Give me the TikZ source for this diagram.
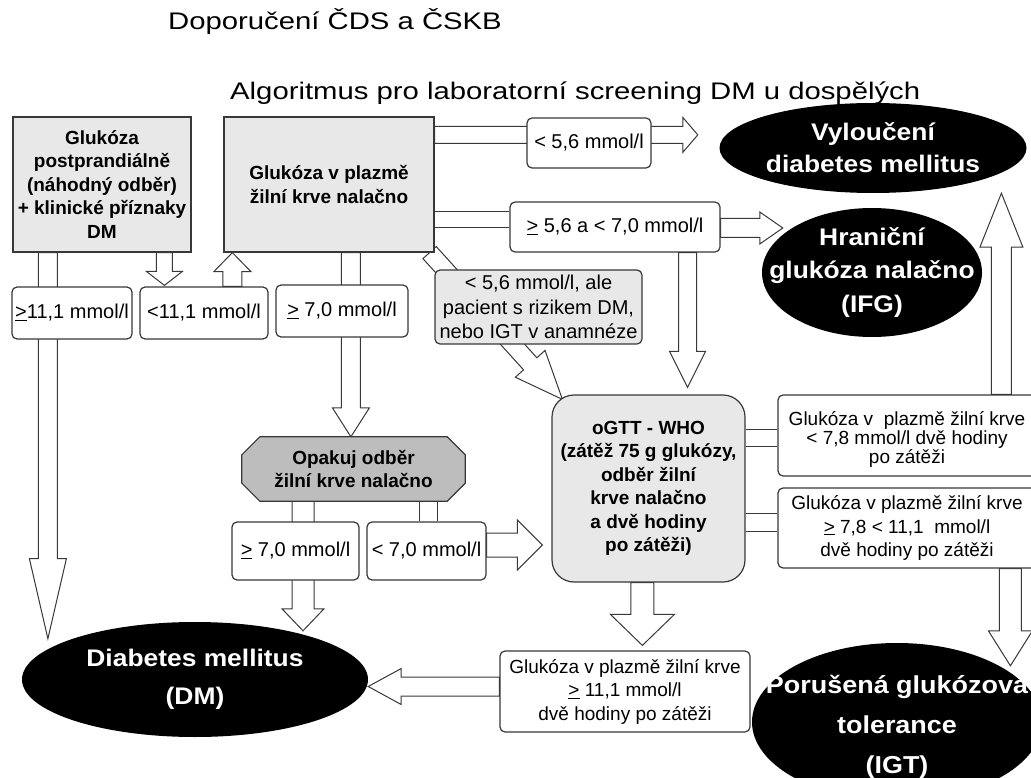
\documentclass[tikz,border=0pt]{standalone}
\usepackage{fontspec}
\setmainfont{Liberation Sans}
\newfontfamily\headfont{Liberation Sans}[FakeStretch=1.22]
\newfontfamily\ovalfont{Liberation Sans}[FakeStretch=1.1]
\usepackage{tikz}
\usetikzlibrary{fit}
\usetikzlibrary{calc}
\usetikzlibrary{shapes.geometric}
\usetikzlibrary{backgrounds}

\definecolor{linegray}{gray}{0.22}
\definecolor{lightfill}{gray}{0.91}
\definecolor{darkfill}{gray}{0.74}

\newcommand{\boxfont}{\fontsize{20}{24.5}\selectfont}
\newcommand{\boldfont}{\bfseries\fontsize{19}{23.5}\selectfont}
\newcommand{\uge}{\underline{>}}

% hollow block arrow: shaft half width, head half width, head length, from, to
\newcommand{\fatarrow}[5]{%
	\draw[hollow] ($(#4)!#1pt!90:(#5)$) -- ($(#5)!#3pt!(#4)!#1pt!-90:(#4)$) -- ($(#5)!#3pt!(#4)!#2pt!-90:(#4)$) -- (#5)
		-- ($(#5)!#3pt!(#4)!#2pt!90:(#4)$) -- ($(#5)!#3pt!(#4)!#1pt!90:(#4)$) -- ($(#4)!#1pt!-90:(#5)$) -- cycle;}
% shaft only, two parallel lines
\newcommand{\twinline}[3]{%
	\draw[twin] ($(#2)!#1pt!90:(#3)$) -- ($(#3)!#1pt!-90:(#2)$) ($(#2)!#1pt!-90:(#3)$) -- ($(#3)!#1pt!90:(#2)$);}

\begin{document}
\begin{tikzpicture}[x=1pt, y=-1pt,
	box/.style={draw=linegray, line width=1.2pt, inner sep=0pt, fill=white},
	gbox/.style={box, fill=lightfill},
	cond/.style={box, rounded corners=5pt},
	oval/.style={ellipse, fill=black, inner sep=0pt},
	txt/.style={align=center, font=\boxfont},
	btxt/.style={align=center, font=\boldfont},
	rtxt/.style={align=center, font=\fontsize{19}{#1}\selectfont},
	ovaltxt/.style 2 args={align=center, text=white, font=\ovalfont\bfseries\fontsize{#1}{#2}\selectfont},
	hollow/.style={draw=linegray, fill=white, line width=1pt},
	twin/.style={draw=linegray, line width=1pt}]

	\useasboundingbox (0,0) rectangle (1031,778);
	\clip (0,0) rectangle (1031,778);

	\node[anchor=base west, inner sep=0pt, font=\headfont\fontsize{24}{28}\selectfont] (title) at (168,30) {Doporučení ČDS a ČSKB};	% headings
	\node[anchor=base west, inner sep=0pt, font=\headfont\fontsize{24}{28}\selectfont] (subtitle) at (230,100) {Algoritmus pro laboratorní screening DM u dospělých};

	\node[gbox, fit={(13,117) (191,252)}, label={[btxt]center:Glukóza\\postprandiálně\\(náhodný odběr)\\+ klinické příznaky\\DM}] (glpost) {};	% starting boxes
	\node[gbox, fit={(224,117) (434,252)}, label={[btxt]center:Glukóza v plazmě\\žilní krve nalačno}] (glfast) {};

	\node[cond, fit={(12,287) (132,339)}, label={[txt]center:\uge11,1 mmol/l}] (ge111) {};	% first results
	\node[cond, fit={(140,287) (268,339)}, label={[txt]center:<11,1 mmol/l}] (lt111) {};
	\node[cond, fit={(276,285) (408,337)}, label={[txt]center:\uge\ 7,0 mmol/l}] (ge70) {};
	\node[cond, fit={(527,118) (651,168)}, label={[txt]center:< 5,6 mmol/l}] (lt56) {};
	\node[cond, fit={(510,202) (720,252)}, label={[txt]center:\uge\ 5,6 a < 7,0 mmol/l}] (ge56) {};
	\node[cond, fill=lightfill, fit={(435,270) (642,344)}, label={[txt]center:< 5,6 mmol/l, ale\\pacient s rizikem DM,\\nebo IGT v anamnéze}] (risk) {};

	\node[inner sep=0pt, fit={(242,437) (465,501)}, label={[btxt]center:Opakuj odběr\\žilní krve nalačno}] (opak) {};	% repeat (outline drawn below)
	\node[cond, fit={(232,522) (359,580)}, label={[txt]center:\uge\ 7,0 mmol/l}] (ge70b) {};
	\node[cond, fit={(367,522) (486,580)}, label={[txt]center:< 7,0 mmol/l}] (lt70) {};

	\node[gbox, rounded corners=22pt, fit={(552,395) (745,582)}, label={[btxt]center:oGTT - WHO\\(zátěž 75 g glukózy,\\odběr žilní\\krve nalačno\\a dvě hodiny\\po zátěži)}] (ogtt) {};	% oGTT
	\node[cond, fit={(778,395) (1036,476)}, label={[rtxt=19, yshift=-4pt]center:Glukóza v\ \ plazmě žilní krve\\< 7,8 mmol/l dvě hodiny\\po zátěži}] (lt78) {};
	\node[cond, fit={(778,488) (1036,568)}, label={[rtxt=23.5]center:Glukóza v plazmě žilní krve\\\uge\ 7,8 < 11,1\ \ mmol/l\\dvě hodiny po zátěži}] (ge78) {};
	\node[cond, fit={(500,651) (750,732)}, label={[rtxt=23.5]center:Glukóza v plazmě žilní krve\\\uge\ 11,1 mmol/l\\dvě hodiny po zátěži}] (ge111b) {};

	\node[oval, minimum width=307pt, minimum height=90pt, label={[ovaltxt={24}{32}]center:Vyloučení\\diabetes mellitus}] (vyl) at (873,148) {};	% diagnoses
	\node[oval, minimum width=220pt, minimum height=129pt, label={[ovaltxt={24}{33.5}]center:Hraniční\\glukóza nalačno\\(IFG)}] (ifg) at (872,272.5) {};
	\node[oval, minimum width=346pt, minimum height=115pt, label={[ovaltxt={24}{38}]center:Diabetes mellitus\\(DM)}] (dm) at (195,679.5) {};
	\node[oval, minimum width=290pt, minimum height=158pt, label={[ovaltxt={24.5}{40}, yshift=-5pt]center:Porušená glukózová\\tolerance\\(IGT)}] (igt) at (897,722) {};

	\path (glpost.south west) ++(35.5,0) coordinate (s1);	% arrow ends
	\path (s1 |- dm.north west) coordinate (t1);
	\path (glpost.south west) ++(152,0) coordinate (s2);
	\path (s2 |- lt111.north) ++(0,-1) coordinate (t2);
	\path (lt111.north west) ++(93,0) coordinate (s3);
	\path (s3 |- glfast.south) coordinate (t3);
	\path (glfast.south west) ++(127.5,0) coordinate (s4);
	\path (s4 |- opak.north) coordinate (t4);
	\path (opak.south) ++(-50.5,0) coordinate (s5);
	\path (s5 |- dm.north) ++(0,9) coordinate (t5);
	\path (opak.south) ++(74.5,0) coordinate (s6);
	\path (s6 |- lt70.north) coordinate (t6);
	\path (lt70.east) ++(0,-6) coordinate (s7);
	\path (s7 -| ogtt.west) ++(-9,0) coordinate (t7);
	\path (glfast.north east) ++(0,18.5) coordinate (s8);
	\path (s8 -| vyl.west) ++(-21.5,0) coordinate (t8);
	\path (glfast.north east) ++(0,103) coordinate (s9);
	\path (s9 -| ge56.west) coordinate (t9);
	\path (ge56.east) ++(0,1) coordinate (s10);
	\path (s10 -| ifg.west) ++(21,0) coordinate (t10);
	\path (ge56.south east) ++(-33,0) coordinate (s11);
	\path (s11 |- ogtt.north) ++(0,-7) coordinate (t11);
	\path (glfast.south east) ++(-5,0) coordinate (s12);
	\path (ogtt.north west) ++(11,5) coordinate (t12);
	\path (ogtt.north east) ++(0,43.5) coordinate (s13);
	\path (s13 -| lt78.west) coordinate (t13);
	\path (ogtt.north east) ++(0,128) coordinate (s14);
	\path (s14 -| ge78.west) coordinate (t14);
	\path (lt78.north west) ++(224,0) coordinate (s15);
	\path (s15 |- vyl.south) coordinate (t15);
	\path (ge78.south west) ++(233,0) coordinate (s16);
	\path (s16 |- igt.north) ++(0,23) coordinate (t16);
	\path (ogtt.south west) ++(91,0) coordinate (s17);
	\path (s17 |- ge111b.north) ++(0,-5) coordinate (t17);
	\path (ge111b.west) ++(0,-5) coordinate (s18);
	\path (s18 -| dm.east) coordinate (t18);

	\begin{pgfonlayer}{background}	% block arrows behind the boxes
		\fatarrow{9.5}{18.5}{80}{s1}{t1}
		\fatarrow{8}{18}{14}{s2}{t2}
		\fatarrow{9.5}{18.5}{19}{s3}{t3}
		\fatarrow{9.5}{18.5}{29}{s4}{t4}
		\fatarrow{11}{21}{22}{s5}{t5}
		\twinline{9}{s6}{t6}
		\fatarrow{12}{25}{25}{s7}{t7}
		\fatarrow{8.5}{17.5}{15}{s8}{t8}
		\twinline{8}{s9}{t9}
		\fatarrow{9.5}{16}{23}{s10}{t10}
		\fatarrow{9}{18}{36}{s11}{t11}
		\fatarrow{9}{20}{48}{s12}{t12}
		\twinline{8.5}{s13}{t13}
		\twinline{9}{s14}{t14}
		\fatarrow{10}{21.5}{54}{s15}{t15}
		\fatarrow{11}{22}{35}{s16}{t16}
		\fatarrow{11.5}{32}{31}{s17}{t17}
		\fatarrow{9.5}{18}{33}{s18}{t18}
		\draw[box, fill=darkfill] ([xshift=18pt]opak.north west) -- ([xshift=-18pt]opak.north east) -- ([yshift=-18pt]opak.north east)
			-- ([yshift=18pt]opak.south east) -- ([xshift=-18pt]opak.south east) -- ([xshift=18pt]opak.south west)
			-- ([yshift=18pt]opak.south west) -- ([yshift=-18pt]opak.north west) -- cycle;	% octagon
	\end{pgfonlayer}
\end{tikzpicture}
\end{document}
